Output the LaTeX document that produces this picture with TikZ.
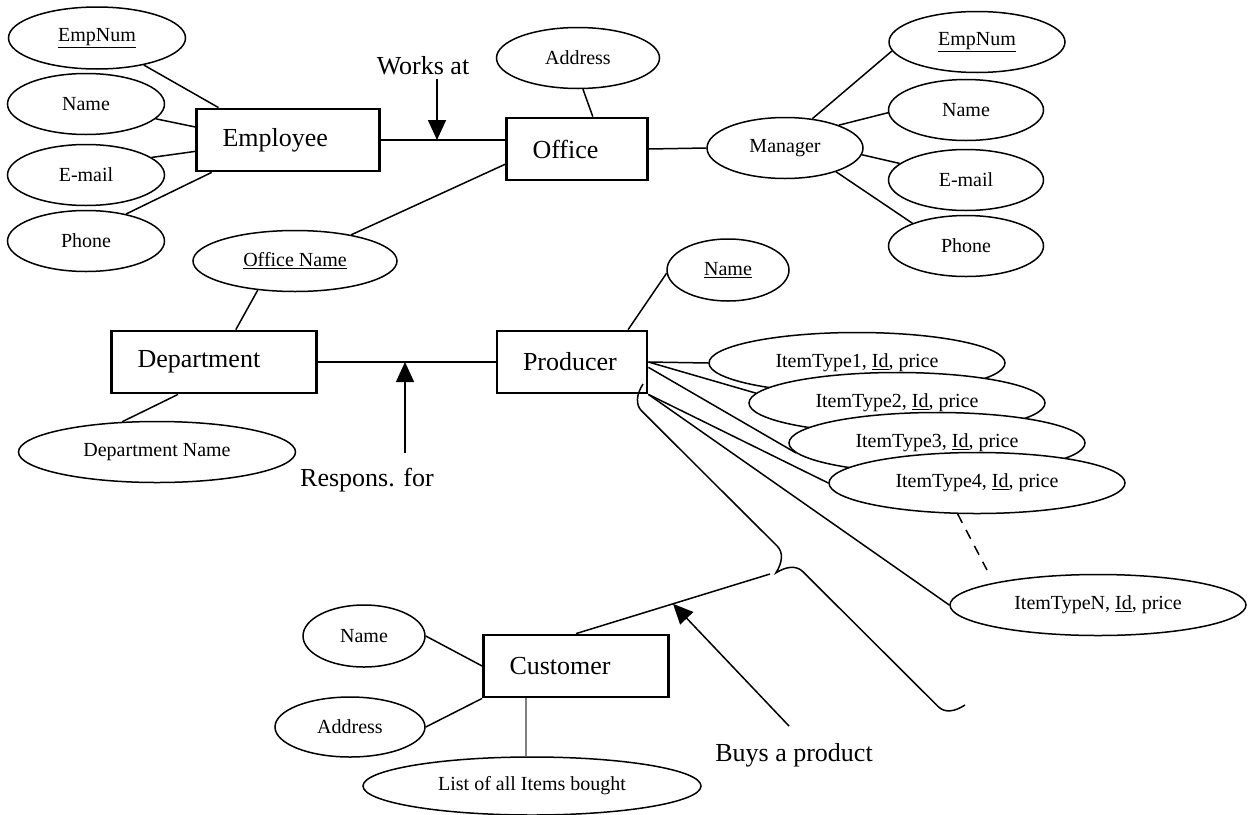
\documentclass[tikz,border=0pt]{standalone}
\usepackage{fontspec}
\setmainfont{Liberation Serif}
\usetikzlibrary{
		calc,
		positioning,
		arrows.meta,
		shapes.geometric
	}
\tikzset{
		>={Triangle[length=20pt,width=18pt]}
	}
\tikzset{entity/.style={draw, line width=2.8pt, align=left, inner xsep=26pt, inner ysep=0pt, minimum height=62pt, font=\fontsize{26}{30}\selectfont}}
\tikzset{attr/.style 2 args={ellipse, draw, fill=white, line width=1.5pt, inner sep=0pt, minimum width=#1, minimum height=#2, font=\fontsize{20}{24}\selectfont}}
\tikzset{lbl/.style={inner sep=0pt, font=\fontsize{26}{30}\selectfont}}

\begin{document}
\begin{tikzpicture}[x=1pt, y=-1pt, line width=1.5pt] % (one unit = one pixel of the sketch, y grows downwards)
		\useasboundingbox (0,0) rectangle (1249,814);
		% Employee
		\node[entity, text width=131pt] (emp) at (288,140) {Employee};
		\node[attr={177pt}{62pt}] (en1) at (97,38) {\underline{EmpNum}};
		\node[attr={157pt}{61pt}] (nm1) at (86,104) {Name};
		\node[attr={157pt}{61pt}] (em1) at (86,175) {E-mail};
		\node[attr={157pt}{61pt}] (ph1) at (86,241) {Phone};
		% Office and its manager
		\node[entity, text width=89pt] (office) at (577,149) {Office};
		\node[attr={163pt}{61pt}] (addr) at (578,58) {Address};
		\node[attr={156pt}{61pt}] (mgr) at (785,148) {Manager};
		\node[attr={176pt}{61pt}] (en2) at (977,42) {\underline{EmpNum}};
		\node[attr={155pt}{61pt}] (nm2) at (966,110) {Name};
		\node[attr={155pt}{61pt}] (em2) at (966,180) {E-mail};
		\node[attr={155pt}{61pt}] (ph2) at (966,246) {Phone};
		\node[attr={204pt}{61pt}] (oname) at (295,261) {\underline{Office Name}};
		% Department
		\node[entity, text width=153pt] (dept) at (214,362) {Department};
		\node[attr={277pt}{61pt}] (dname) at (157,452) {Department Name};
		% Producer and the item types
		\node[entity, text width=98pt] (prod) at (572,362) {Producer};
		\node[attr={122pt}{62pt}] (pname) at (728,270) {\underline{Name}};
		\foreach \i in {1,...,4}
		  \node[attr={296pt}{61pt}] (it\i) at (817+40*\i,323+40*\i) {ItemType\i, \underline{Id}, price};
		\node[attr={296pt}{61pt}] (itN) at (1098,605) {ItemTypeN, \underline{Id}, price};
		% Customer
		\node[entity, text width=133pt] (cust) at (576,666) {Customer};
		\node[attr={122pt}{62pt}] (cname) at (364,636) {Name};
		\node[attr={150pt}{60pt}] (caddr) at (350,727) {Address};
		\node[attr={338pt}{58pt}] (list) at (532,786) {List of all Items bought};
		% relationship labels
		\node[lbl] (worksat) at (423,66) {Works at};
		\node[lbl] (respfor) at (367,480) {Respons. for};
		\node[lbl] (buys) at (794,755) {Buys a product};
		\coordinate (watail) at (437,79);
		\coordinate (rftail) at (405,453);
		\coordinate (buystail) at (789,726);
		\coordinate (brtop) at (643,384);
		\coordinate (brbot) at (965,705);
		\coordinate (brtip) at (770,574);
		\coordinate (dots) at (987,570);

		\draw (en1.-30) -- (emp.155);
		\draw (nm1.-12) -- (emp.172);
		\draw (em1.15) -- (emp.187);
		\draw (ph1.34) -- (emp.203);
		\draw (emp.east) -- (emp.east -| office.west);
		\draw[->] (watail) -- (watail |- emp.east);
		\draw (addr.-81) -- (office.64);
		\draw (office.east) -- (mgr.west);
		\draw (mgr.47) -- (en2.186);
		\draw (mgr.23) -- (nm2.182);
		\draw (mgr.-5) -- (em2.166);
		\draw (mgr.-25) -- (ph2.157);
		\draw (oname.25) -- (office.192);
		\draw (oname.218) -- (dept.56);
		\draw (dname.139) -- (dept.222);
		\draw (dept.east) -- (prod.west);
		\draw[->] (rftail) -- (rftail |- dept.east);
		\draw (pname.183) -- (prod.30);
		\draw (prod.east) -- (it1.west);
		\draw (prod.east) -- (it2.176);
		\draw (prod.-4) -- (it3.184);
		\draw (prod.south east) -- (it4.west);
		\draw (prod.south east) -- (itN.west);
		\draw[dash pattern=on 10pt off 8pt] (it4.238) -- (dots);
		% the long brace over the item types
		\draw (brtop) .. controls (636.4,394.4) and (635.3,404.6) .. (641.6,410.9)
		  -- (777.2,546.1) .. controls (783.6,552.5) and (782.4,562.5) .. (775.9,572.9)
		  .. controls (786.2,566.3) and (796.3,565.2) .. (802.7,571.5)
		  -- (938.3,706.7) .. controls (944.7,713.1) and (954.7,711.8) .. (brbot);
		\draw (cname.east) -- (cust.west);
		\draw (caddr.east) -- (cust.south west);
		\draw[gray, line width=1.2pt] ([xshift=-50pt]cust.south) -- ([xshift=-50pt]cust.south |- list.north);
		\draw (cust.north) -- (brtip);
		\draw[->] (buystail) -- ($(cust.north)!.5!(brtip)$);
	\end{tikzpicture}
\end{document}
